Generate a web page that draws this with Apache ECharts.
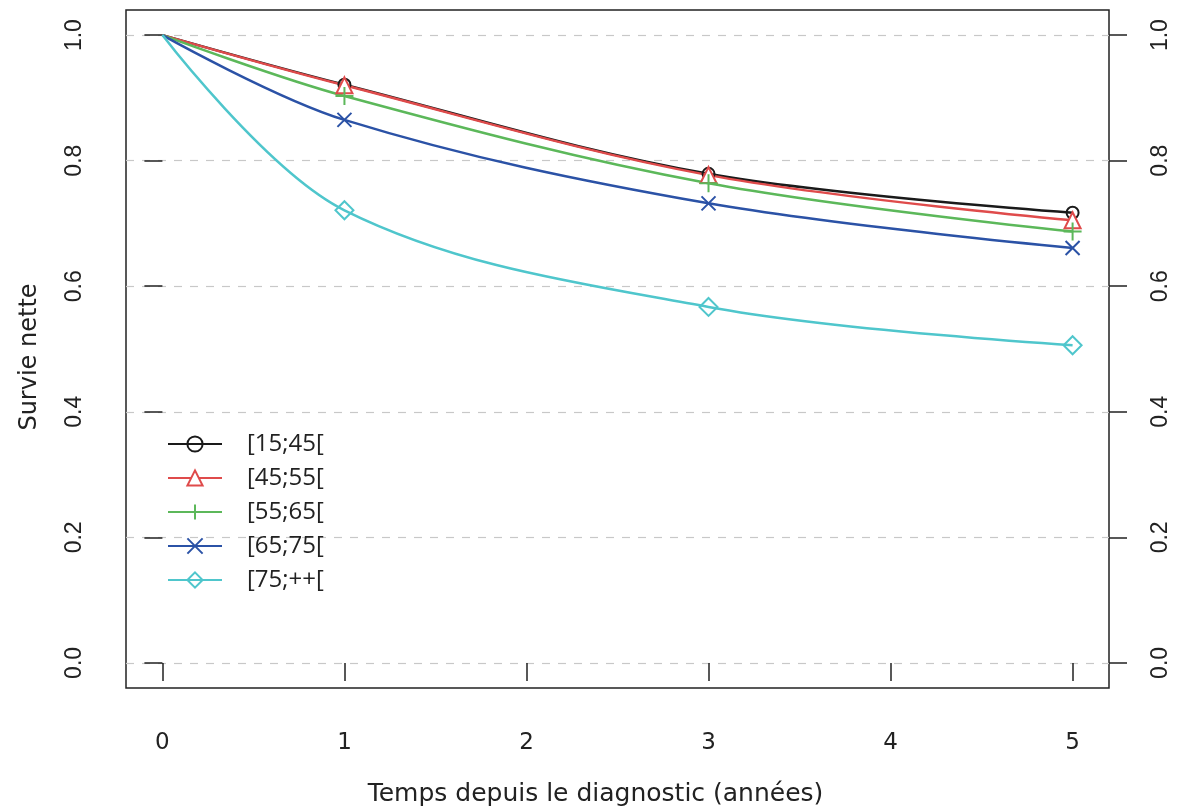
<!DOCTYPE html>
<html>
<head>
<meta charset="utf-8">
<script src="https://cdn.jsdelivr.net/npm/echarts@6/dist/echarts.min.js"></script>
<style>
  html, body { margin: 0; padding: 0; background: #fff; }
  #chart { width: 1180px; height: 812px; }
</style>
</head>
<body>
<div id="chart"></div>
<script>
// années depuis le diagnostic
const years = [0, 1, 3, 5];
const xTicks = [0, 1, 2, 3, 4, 5];
const yTicks = [0, 0.2, 0.4, 0.6, 0.8, 1.0];

// survie nette par classe d'âge
const groups = ["[15;45[", "[45;55[", "[55;65[", "[65;75[", "[75;++["];
const surv15_45 = [1.0, 0.921, 0.779, 0.717];
const surv45_55 = [1.0, 0.920, 0.777, 0.705];
const surv55_65 = [1.0, 0.903, 0.764, 0.687];
const surv65_75 = [1.0, 0.865, 0.732, 0.661];
const surv75_pp = [1.0, 0.721, 0.567, 0.506];

const values = [surv15_45, surv45_55, surv55_65, surv65_75, surv75_pp];
const colors = ["#1a1a1a", "#df4b4b", "#5cb85a", "#2b52a6", "#4fc6cc"];
const symbols = [
  "circle",
  "triangle",
  "path://M5,0L5,10M0,5L10,5",
  "path://M0,0L10,10M10,0L0,10",
  "diamond"
];
const symbolSizes = [12, 16, 18, 14, 18];
// le triangle rouge recouvre le cercle noir (tracé après)
const fills = ["rgba(255,255,255,0)", "#fff", "rgba(255,255,255,0)", "rgba(255,255,255,0)", "rgba(255,255,255,0)"];

const chart = echarts.init(document.getElementById("chart"));

const series = groups.map((name, k) => ({
  name,
  type: "line",
  smooth: 0.35,
  symbol: symbols[k],
  symbolSize: symbolSizes[k],
  showAllSymbol: true,
  lineStyle: { color: colors[k], width: 2.5 },
  itemStyle: { color: fills[k], borderColor: colors[k], borderWidth: 2 },
  emphasis: { disabled: true },
  data: years.map((x, i) =>
    i === 0 ? { value: [x, values[k][i]], symbol: "none" } : [x, values[k][i]]
  )
}));

chart.setOption({
  animation: false,
  grid: {
    left: 126, right: 71, top: 10, bottom: 124,
    show: true, borderColor: "#222", borderWidth: 1.5
  },
  legend: {
    left: 162, top: 427,
    orient: "vertical",
    itemWidth: 54, itemHeight: 19, itemGap: 10,
    textStyle: {
      fontFamily: "Open Sans", fontSize: 24, color: "#222",
      lineHeight: 24, padding: [0, 0, 0, 20]
    },
    data: groups
  },
  xAxis: {
    type: "value",
    min: -0.2, max: 5.2,
    name: "Temps depuis le diagnostic (années)",
    nameLocation: "middle",
    nameGap: 94,
    nameTextStyle: {
      fontFamily: "DejaVu Sans", fontSize: 25, color: "#222",
      padding: [0, 44, 0, 0]
    },
    axisLine: { show: false },
    axisTick: { show: true, length: 18, customValues: xTicks, lineStyle: { color: "#222", width: 1.5 } },
    axisLabel: {
      customValues: xTicks, margin: 44,
      fontFamily: "DejaVu Sans", fontSize: 23, color: "#222"
    },
    splitLine: { show: false }
  },
  yAxis: [
    {
      type: "value",
      min: -0.04, max: 1.04,
      name: "Survie nette",
      nameLocation: "middle",
      nameRotate: 90,
      nameGap: 84,
      nameTextStyle: {
        fontFamily: "DejaVu Sans", fontSize: 24, color: "#222",
        padding: [0, 16, 0, 0]
      },
      axisLine: { show: false },
      axisTick: { show: true, length: 18, customValues: yTicks, lineStyle: { color: "#222", width: 1.5 } },
      axisLabel: {
        customValues: yTicks, rotate: 90, margin: 40,
        fontFamily: "Liberation Sans", fontSize: 23, color: "#222",
        formatter: v => v.toFixed(1)
      },
      splitLine: {
        show: true,
        lineStyle: { color: "#c8c8c8", type: [8, 8], width: 1.2 }
      }
    },
    {
      type: "value",
      position: "right",
      min: -0.04, max: 1.04,
      axisLine: { show: false },
      axisTick: { show: true, length: 18, customValues: yTicks, lineStyle: { color: "#222", width: 1.5 } },
      axisLabel: {
        customValues: yTicks, rotate: 90, margin: 40,
        fontFamily: "Liberation Sans", fontSize: 23, color: "#222",
        formatter: v => v.toFixed(1)
      },
      splitLine: { show: false }
    }
  ],
  series
});
</script>
</body>
</html>
